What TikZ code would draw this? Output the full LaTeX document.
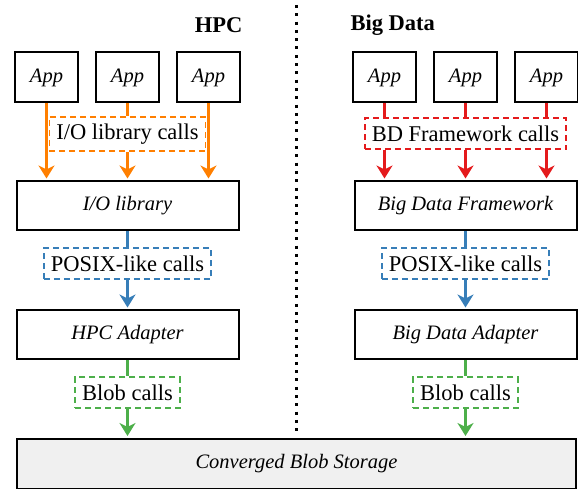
\documentclass[tikz,border=0pt]{standalone}
\usepackage{fontspec}
\setmainfont{Liberation Serif}
\usepackage{tikz}
\usetikzlibrary{positioning,arrows.meta}

\definecolor{callorange}{HTML}{FF7F00}
\definecolor{callred}{HTML}{E41A1C}
\definecolor{callblue}{HTML}{377EB8}
\definecolor{callgreen}{HTML}{4DAF4A}
\definecolor{blobgray}{HTML}{F0F0F0}

\begin{document}
\begin{tikzpicture}[
			x=1pt, y=1pt,
			appnode/.style={rectangle, draw, line width=2pt, minimum width=63pt, minimum height=50pt, font=\fontsize{20.5}{24}\selectfont\itshape},
			layernode/.style={rectangle, draw, line width=2pt, minimum width=222pt, minimum height=49pt, font=\fontsize{20.5}{24}\selectfont\itshape},
			callnode/.style={rectangle, draw, line width=1.5pt, dash pattern=on 6pt off 4pt, fill=white, inner xsep=7pt, minimum height=31pt, font=\fontsize{22.5}{26}\selectfont},
			titlenode/.style={font=\fontsize{22.5}{26}\selectfont\bfseries},
			callarrow/.style={line width=3pt, shorten >=2pt, -{Stealth[length=13pt, width=16pt, inset=4pt]}},
			callline/.style={line width=3pt},
			]
			\useasboundingbox (0,0) rectangle (578,489);

			%Titles and divider
			\node[titlenode, anchor=east] (hpctitle) at (246,464) {HPC};
			\node[titlenode, anchor=west] (bdtitle)  at (347,464) {Big Data};
			\coordinate (divtop) at (296,484);
			\coordinate (divbot) at (296,54);
			\draw[line width=3pt, dash pattern=on 3pt off 5.3pt] (divtop) -- (divbot);

			%HPC nodes
			\node[appnode] (hpcapp2) at (127.5,411.5) {App};
			\node[appnode] (hpcapp1) [left=16pt of hpcapp2]  {App};
			\node[appnode] (hpcapp3) [right=16pt of hpcapp2] {App};
			\node[layernode] (hpclib)   [below=77pt of hpcapp2] {I/O library};
			\node[layernode] (hpcadapt) [below=78pt of hpclib]  {HPC Adapter};

			%Big Data nodes
			\node[appnode] (bdapp2) at (465.5,411.5) {App};
			\node[appnode] (bdapp1) [left=16pt of bdapp2]  {App};
			\node[appnode] (bdapp3) [right=16pt of bdapp2] {App};
			\node[layernode] (bdframe) [below=77pt of bdapp2]  {Big Data Framework};
			\node[layernode] (bdadapt) [below=78pt of bdframe] {Big Data Adapter};

			%Storage
			\node[layernode, fill=blobgray, minimum width=559pt, minimum height=50pt] (blobstore) at (296.5,25) {Converged Blob Storage};

			%Call labels
			\node[callnode, draw=callorange, minimum height=34pt] (hpccalls)  [below=13pt of hpcapp2] {I/O library calls};
			\node[callnode, draw=callred, minimum height=31pt]    (bdcalls)   [below=14pt of bdapp2]  {BD Framework calls};
			\node[callnode, draw=callblue]  (hpcposix) [below=16pt of hpclib]   {POSIX-like calls};
			\node[callnode, draw=callblue]  (bdposix)  [below=16pt of bdframe]  {POSIX-like calls};
			\node[callnode, draw=callgreen] (hpcblob)  [below=16pt of hpcadapt] {Blob calls};
			\node[callnode, draw=callgreen] (bdblob)   [below=16pt of bdadapt]  {Blob calls};

			%Connectors
			\draw[callline, callorange] (hpcapp2.south) -- (hpccalls.north);
			\draw[callarrow, callorange] (hpccalls.south) -- (hpclib.north);
			\draw[callarrow, callorange] (hpcapp1.south) -- (hpcapp1.south |- hpclib.north);
			\draw[callarrow, callorange] (hpcapp3.south) -- (hpcapp3.south |- hpclib.north);

			\draw[callline, callred] (bdapp1.south) -- (bdapp1.south |- bdcalls.north);
			\draw[callline, callred] (bdapp2.south) -- (bdcalls.north);
			\draw[callline, callred] (bdapp3.south) -- (bdapp3.south |- bdcalls.north);
			\draw[callarrow, callred] (bdapp1.south |- bdcalls.south) -- (bdapp1.south |- bdframe.north);
			\draw[callarrow, callred] (bdcalls.south) -- (bdframe.north);
			\draw[callarrow, callred] (bdapp3.south |- bdcalls.south) -- (bdapp3.south |- bdframe.north);

			\draw[callline, callblue] (hpclib.south) -- (hpcposix.north);
			\draw[callarrow, callblue] (hpcposix.south) -- (hpcadapt.north);
			\draw[callline, callblue] (bdframe.south) -- (bdposix.north);
			\draw[callarrow, callblue] (bdposix.south) -- (bdadapt.north);

			\draw[callline, callgreen] (hpcadapt.south) -- (hpcblob.north);
			\draw[callarrow, callgreen] (hpcblob.south) -- (hpcblob.south |- blobstore.north);
			\draw[callline, callgreen] (bdadapt.south) -- (bdblob.north);
			\draw[callarrow, callgreen] (bdblob.south) -- (bdblob.south |- blobstore.north);
		\end{tikzpicture}
\end{document}
